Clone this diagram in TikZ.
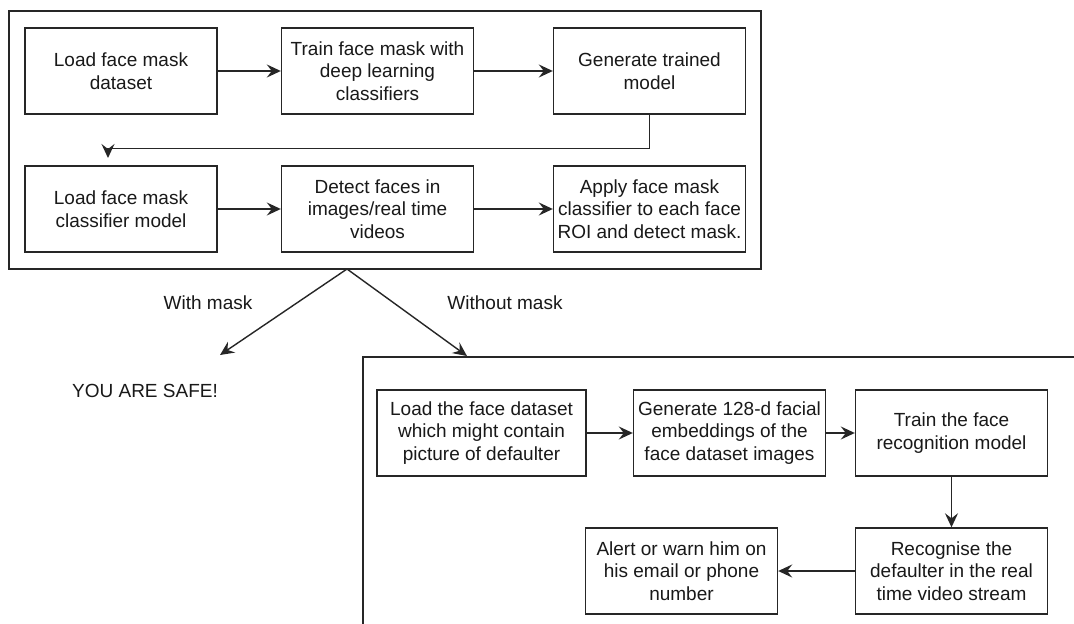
\documentclass[tikz,border=0pt]{standalone}
\usepackage{fontspec}
\setmainfont{Liberation Sans}
\usetikzlibrary{arrows.meta}
\begin{document}
\begin{tikzpicture}[x=1pt,y=-1pt,
  box/.style={draw=black!85, line width=1.4pt, minimum width=192pt, minimum height=86pt, inner sep=0pt, align=center, font=\fontsize{19}{22.5}\selectfont, text=black!90},
  lbl/.style={font=\fontsize{19}{22.5}\selectfont, inner sep=0pt, text=black!90},
  arr/.style={draw=black!85, line width=1.4pt, -{Stealth[length=14pt,width=13pt,inset=5pt]}},
  frame/.style={draw=black!85, line width=1.6pt}]
\clip (0,0) rectangle (1074,624);
\fill[white] (0,0) rectangle (1074,624);
% top frame
\node[frame, minimum width=752pt, minimum height=258pt, inner sep=0pt] (top) at (385,140) {};
\node[box] (b1) at (121,71) {Load face mask\\dataset};
\node[box] (b2) at (377.5,71) {Train face mask with\\deep learning\\classifiers};
\node[box] (b3) at (649.5,71) {Generate trained\\model};
\node[box] (b4) at (121,209) {Load face mask\\classifier model};
\node[box] (b5) at (377.5,209) {Detect faces in\\images/real time\\videos};
\node[box] (b6) at (649.5,209) {Apply face mask\\classifier to each face\\ROI and detect mask.};
\draw[arr] (b1) -- (b2);
\draw[arr] (b2) -- (b3);
\draw[arr] (b4) -- (b5);
\draw[arr] (b5) -- (b6);
\coordinate (ret) at (108,158);
\draw[arr] (b3.south) -- ++(0,34) -| (ret);
% branch
\coordinate (apex) at (347,269);
\coordinate (safetip) at (220,355);
\coordinate (bottip) at (467,356);
\draw[arr] (apex) -- (safetip);
\draw[arr] (apex) -- (bottip);
\node[lbl] (wm) at (208,303) {With mask};
\node[lbl] (wom) at (505,303) {Without mask};
\node[lbl] (safe) at (145,391) {YOU ARE SAFE!};
% bottom frame
\node[frame, anchor=north west, minimum width=800pt, minimum height=400pt, inner sep=0pt] (bot) at (362,356) {};
\node[box, minimum width=209pt] (c1) at (481.5,433) {Load the face dataset\\which might contain\\picture of defaulter};
\node[box] (c2) at (729.5,433) {Generate 128-d facial\\embeddings of the\\face dataset images};
\node[box] (c3) at (951.5,433) {Train the face\\recognition model};
\node[box] (c4) at (951.5,571) {Recognise the\\defaulter in the real\\time video stream};
\node[box] (c5) at (681.5,571) {Alert or warn him on\\his email or phone\\number};
\draw[arr] (c1) -- (c2);
\draw[arr] (c2) -- (c3);
\draw[arr] (c3) -- (c4);
\draw[arr] (c4) -- (c5);
\end{tikzpicture}
\end{document}
